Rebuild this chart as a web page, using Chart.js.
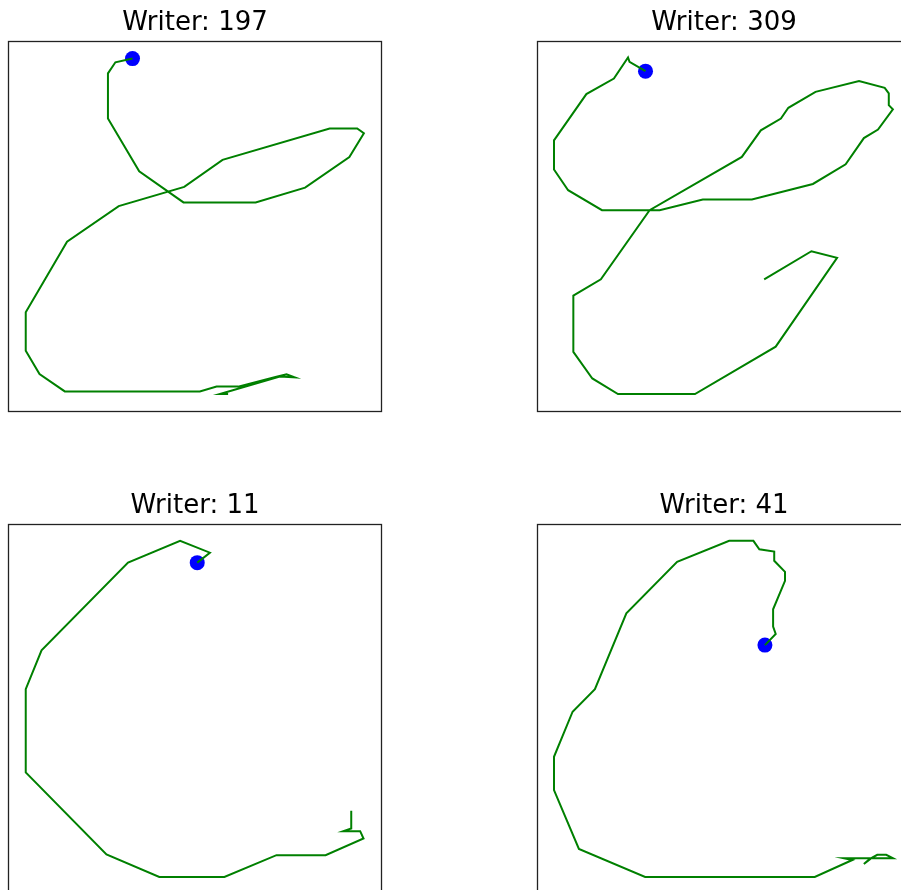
<!DOCTYPE html>
<html>
<head>
<meta charset="utf-8">
<script src="https://cdn.jsdelivr.net/npm/chart.js@4/dist/chart.umd.min.js"></script>
<style>
  html, body { margin: 0; padding: 0; background: #fff; overflow: hidden; width: 901px; height: 890px; }
  canvas { position: absolute; }
</style>
</head>
<body>
<canvas id="c0" width="390" height="420" style="left:0px;top:0px"></canvas>
<canvas id="c1" width="390" height="420" style="left:529px;top:0px"></canvas>
<canvas id="c2" width="390" height="420" style="left:0px;top:483px"></canvas>
<canvas id="c3" width="390" height="420" style="left:529px;top:483px"></canvas>
<script>
var titles = ["Writer: 197", "Writer: 309", "Writer: 11", "Writer: 41"];

// stroke coordinates, first point = pen start (blue dot)
var writer197X = [33.2, 28.6, 26.6, 26.6, 35.0, 46.9, 66.3, 79.6, 91.5, 95.4, 93.6, 86.2, 57.4, 47.1, 29.5, 15.6, 4.5, 4.5, 8.2, 15.0, 51.3, 55.8, 61.6, 71.9, 74.6, 76.8, 72.8, 56.7, 58.9];
var writer197Y = [95.3, 94.3, 91.3, 79.1, 64.8, 56.4, 56.4, 60.4, 68.7, 75.1, 76.4, 76.4, 67.9, 60.6, 55.4, 45.8, 26.7, 16.3, 10.0, 5.3, 5.3, 6.6, 6.6, 9.3, 9.9, 9.1, 9.3, 4.6, 4.6];

var writer309X = [28.9, 24.6, 24.2, 20.4, 13.0, 4.3, 4.3, 8.1, 17.2, 32.7, 44.3, 57.5, 73.9, 82.7, 87.6, 91.4, 95.4, 94.3, 94.3, 93.2, 86.3, 74.6, 67.3, 65.3, 59.9, 54.8, 30.0, 16.9, 9.5, 9.5, 14.6, 21.5, 42.2, 63.9, 80.4, 73.5, 60.8];
var writer309Y = [91.9, 94.4, 95.6, 89.9, 85.7, 73.2, 65.3, 59.7, 54.3, 54.3, 57.2, 57.2, 61.4, 66.7, 73.8, 76.1, 81.6, 82.7, 85.9, 87.4, 89.2, 86.3, 82.0, 79.1, 75.9, 68.7, 54.3, 35.6, 31.2, 16.0, 8.8, 4.6, 4.6, 17.4, 41.4, 43.2, 35.6];

var writer11X = [50.6, 54.0, 46.0, 32.0, 8.75, 4.5, 4.5, 26.2, 40.4, 57.9, 71.9, 85.1, 95.3, 94.4, 89.9, 92.0, 92.0];
var writer11Y = [89.6, 92.3, 95.5, 89.6, 65.9, 55.4, 32.9, 10.7, 4.6, 4.6, 10.5, 10.5, 15.0, 17.0, 17.0, 17.7, 22.5];

var writer41X = [61.0, 63.9, 63.2, 63.2, 66.4, 66.4, 63.5, 63.5, 59.5, 57.9, 51.4, 37.4, 23.75, 15.3, 9.3, 4.3, 4.3, 11.0, 28.8, 74.4, 84.5, 82.2, 89.4, 87.6, 89.6, 91.2, 93.6, 95.4, 89.8];
var writer41Y = [67.3, 70.3, 72.3, 77.0, 84.7, 87.1, 90.1, 92.6, 93.2, 95.5, 95.5, 89.8, 75.9, 55.4, 49.3, 37.1, 28.1, 12.2, 4.6, 4.6, 9.2, 9.7, 9.7, 8.1, 9.7, 10.6, 10.6, 9.7, 9.7];

var allX = [writer197X, writer309X, writer11X, writer41X];
var allY = [writer197Y, writer309Y, writer11Y, writer41Y];

// dark box round the plot area
var frameBox = {
    id: 'frameBox',
    afterDraw: function(chart) {
        var a = chart.chartArea;
        var ctx = chart.ctx;
        ctx.save();
        ctx.strokeStyle = '#222';
        ctx.lineWidth = 1.3;
        ctx.strokeRect(Math.round(a.left) - 0.5, Math.round(a.top) + 0.5, Math.round(a.right - a.left) + 1, Math.round(a.bottom - a.top));
        ctx.restore();
    }
};

for (var i = 0; i < 4; i++) {
    var pts = [];
    for (var j = 0; j < allX[i].length; j++) {
        pts.push({x: allX[i][j], y: allY[i][j]});
    }

    new Chart(document.getElementById('c' + i).getContext('2d'), {
        type: 'scatter',
        data: {
            datasets: [{
                    data: pts,
                    showLine: true,
                    borderColor: '#008000',
                    borderWidth: 2,
                    pointRadius: 0,
                    tension: 0
                },
                {
                    data: [pts[0]],
                    backgroundColor: '#0000ff',
                    borderColor: '#0000ff',
                    pointRadius: 7.5,
                    borderWidth: 0
                }
            ]
        },
        options: {
            responsive: false,
            animation: false,
            devicePixelRatio: 1,
            layout: { padding: { left: 9, right: 9, top: 0, bottom: 9 } },
            scales: {
                x: { type: 'linear', min: 0, max: 100, display: false },
                y: { type: 'linear', min: 0, max: 100, display: false }
            },
            plugins: {
                legend: { display: false },
                tooltip: { enabled: false },
                title: {
                    display: true,
                    text: titles[i],
                    color: '#000',
                    font: { family: 'DejaVu Sans', size: 26, weight: 'normal' },
                    padding: { top: 8, bottom: 2 }
                }
            }
        },
        plugins: [frameBox]
    });
}
</script>
</body>
</html>
